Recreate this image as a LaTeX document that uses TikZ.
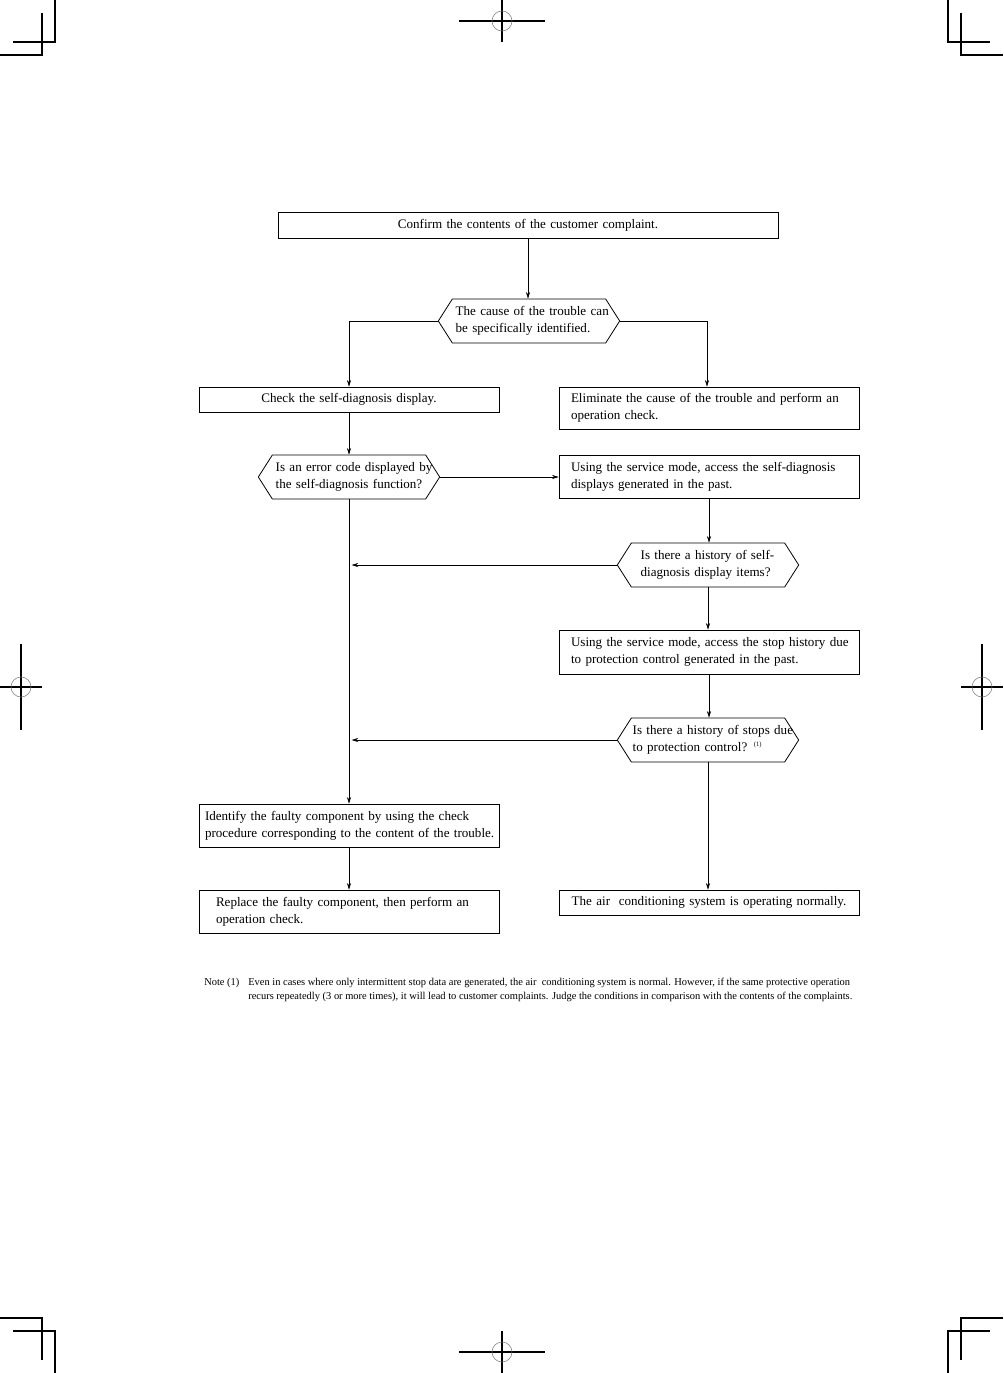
\documentclass[tikz,border=0pt]{standalone}
\usepackage{fontspec}
\setmainfont{Liberation Serif}
\usetikzlibrary{arrows.meta,shapes.symbols,positioning}

\tikzset{
  box/.style={draw, line width=0.6pt, inner xsep=9pt, inner ysep=1pt, text width=207pt, align=left, font=\fontsize{9.8}{12.75}\selectfont},
  hexbox/.style={draw, line width=0.6pt, signal, signal to=west and east, signal pointer angle=115, inner xsep=-2pt, inner ysep=1pt, minimum height=33pt, text width=119pt, align=left, font=\fontsize{9.8}{12.75}\selectfont},
  flow/.style={-{Stealth[length=5pt,width=3.2pt]}, line width=0.5pt},
  crop/.style={line width=0.9pt},
  regmark/.style={line width=0.4pt, gray},
  notefont/.style={font=\fontsize{7.85}{10.5}\selectfont},
}

\begin{document}
\begin{tikzpicture}[x=0.75pt,y=-0.75pt]
\useasboundingbox[fill=white] (0,0) rectangle (1003,1373);

% crop marks
\draw[crop] (55,0) -- (55,42) -- (13,42);
\draw[crop] (42,13) -- (42,55) -- (0,55);
\draw[crop] (948,0) -- (948,42) -- (990,42);
\draw[crop] (961,13) -- (961,55) -- (1003,55);
\draw[crop] (55,1373) -- (55,1331) -- (13,1331);
\draw[crop] (42,1360) -- (42,1318) -- (0,1318);
\draw[crop] (948,1373) -- (948,1331) -- (990,1331);
\draw[crop] (961,1360) -- (961,1318) -- (1003,1318);

% registration marks
\foreach \cx/\cy in {502/21, 502/1352} {
  \draw[crop] (\cx-43,\cy) -- (\cx+43,\cy);
  \draw[crop] (\cx,\cy-21) -- (\cx,\cy+21);
  \draw[regmark] (\cx,\cy) circle[radius=7.5pt];
}
\foreach \cx/\cy in {21/687, 982/687} {
  \draw[crop] (\cx-21,\cy) -- (\cx+21,\cy);
  \draw[crop] (\cx,\cy-43) -- (\cx,\cy+43);
  \draw[regmark] (\cx,\cy) circle[radius=7.5pt];
}

% flow chart
\node[box, text width=357pt, align=center, minimum height=19.5pt] (confirm) at (528,225) {Confirm the contents of the customer complaint.};
\node[hexbox] (cause) at (529,321) {\mbox{\hspace*{4.5pt}The cause of the trouble can}\\\mbox{\hspace*{4.5pt}be specifically identified.}};
\node[box, align=center, minimum height=18.75pt] (check) at (349,399.5) {Check the self-diagnosis display.};
\node[box, minimum height=31.5pt] (eliminate) at (709,408) {Eliminate the cause of the trouble and perform an\\operation check.};
\node[hexbox] (errcode) at (349,477) {\mbox{\hspace*{4.5pt}Is an error code displayed by}\\\mbox{\hspace*{4.5pt}the self-diagnosis function?}};
\node[box, minimum height=32.25pt] (pastdiag) at (709,476.5) {Using the service mode, access the self-diagnosis\\displays generated in the past.};
\node[hexbox] (diaghist) at (708,565) {\mbox{\hspace*{9pt}Is there a history of self-}\\\mbox{\hspace*{9pt}diagnosis display items?}};
\node[box, minimum height=33pt] (stophist) at (709,652) {\mbox{Using the service mode, access the stop history due}\\to protection control generated in the past.};
\node[hexbox] (stops) at (708,740) {\mbox{\hspace*{3pt}Is there a history of stops due}\\\mbox{\hspace*{3pt}to protection control? \textsuperscript{\fontsize{5}{5}\selectfont(1)}}};
\node[box, inner xsep=4.5pt, text width=216pt, minimum height=32.25pt] (identify) at (349,825.5) {Identify the faulty component by using the check\\\mbox{procedure corresponding to the content of the trouble.}};
\node[box, inner xsep=12.75pt, text width=199.5pt, minimum height=32.25pt] (replace) at (349,911.5) {Replace the faulty component, then perform an\\operation check.};
\node[box, align=center, minimum height=18.75pt] (normal) at (709,902.5) {The air~~conditioning system is operating normally.};

\draw[flow] (confirm.south) -- (confirm.south |- cause.north);
\draw[flow] (cause.west) -| (check.north);
\draw[flow] (cause.east) -| ([xshift=-1.5pt]eliminate.north);
\draw[flow] (check.south) -- (errcode.north);
\draw[flow] (errcode.east) -- (errcode.east -| pastdiag.west);
\draw[flow] (pastdiag.south) -- (pastdiag.south |- diaghist.north);
\draw[flow] (diaghist.west) -- ([xshift=2pt]diaghist.west -| identify.north);
\draw[flow] (diaghist.south) -- (diaghist.south |- stophist.north);
\draw[flow] (stophist.south) -- (stophist.south |- stops.north);
\draw[flow] (stops.west) -- ([xshift=2pt]stops.west -| identify.north);
\draw[flow] (stops.south) -- (stops.south |- normal.north);
\draw[flow] (errcode.south) -- (identify.north);
\draw[flow] (identify.south) -- (replace.north);

% note
\node[notefont, anchor=base west, inner sep=0pt] (notelabel) at (204,985) {Note (1)};
\node[notefont, anchor=base west, inner sep=0pt, align=left] (notetext) at (248,999) {Even in cases where only intermittent stop data are generated, the air~~conditioning system is normal. However, if the same protective operation\\recurs repeatedly (3 or more times), it will lead to customer complaints. Judge the conditions in comparison with the contents of the complaints.};
\end{tikzpicture}
\end{document}
